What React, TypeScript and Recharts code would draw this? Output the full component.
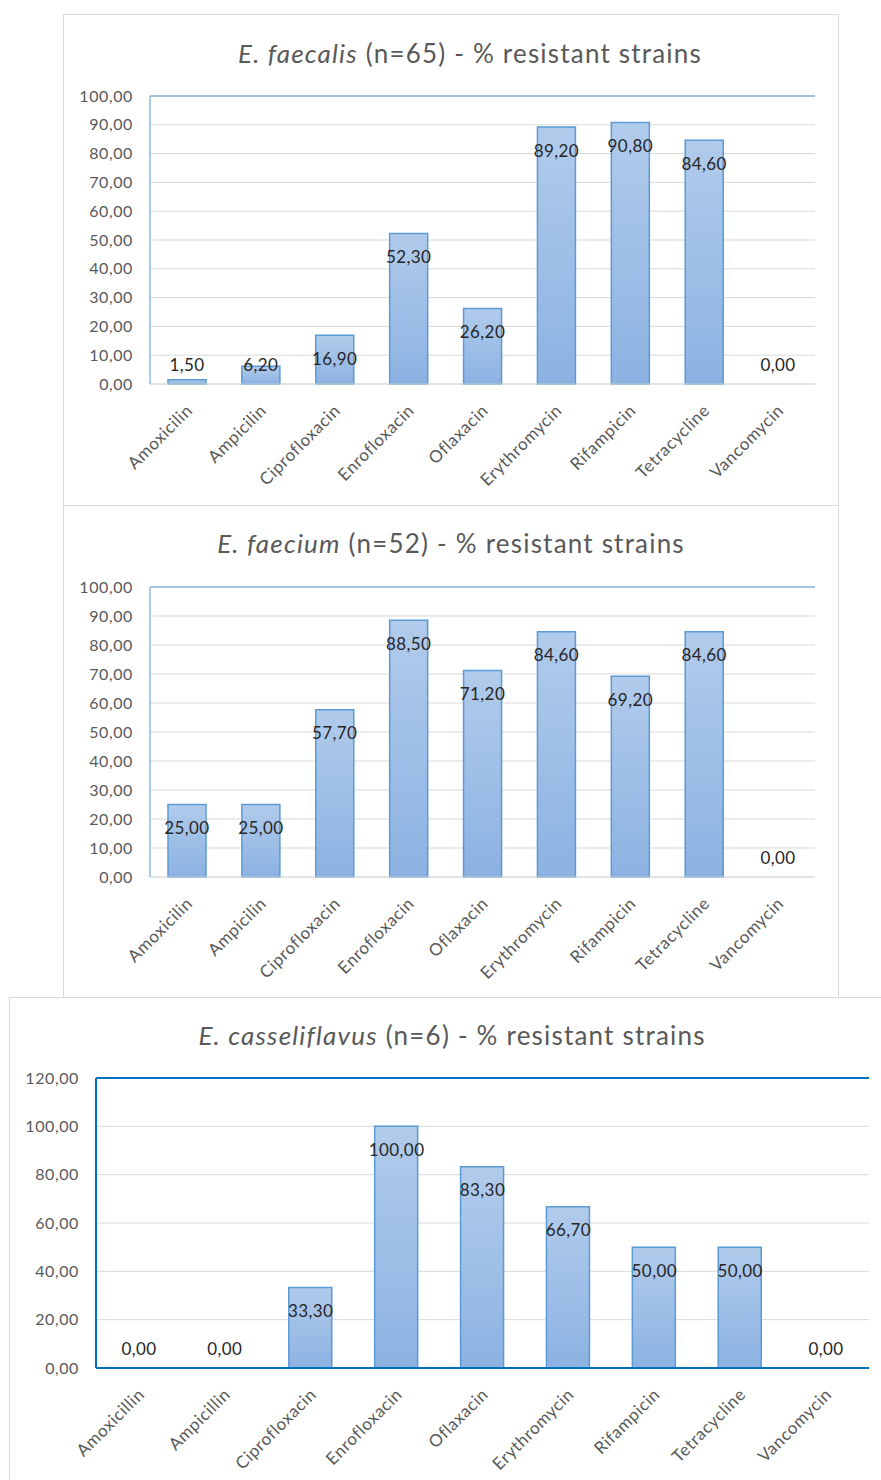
import React from 'react';
import { ComposedChart, Bar, Line, XAxis, YAxis, CartesianGrid, ReferenceLine, LabelList } from 'recharts';

const drugsA = ['Amoxicilin', 'Ampicilin', 'Ciprofloxacin', 'Enrofloxacin', 'Oflaxacin', 'Erythromycin', 'Rifampicin', 'Tetracycline', 'Vancomycin'];
const drugsB = ['Amoxicillin', 'Ampicillin', 'Ciprofloxacin', 'Enrofloxacin', 'Oflaxacin', 'Erythromycin', 'Rifampicin', 'Tetracycline', 'Vancomycin'];
const faecalisValues = [1.5, 6.2, 16.9, 52.3, 26.2, 89.2, 90.8, 84.6, 0];
const faeciumValues = [25.0, 25.0, 57.7, 88.5, 71.2, 84.6, 69.2, 84.6, 0];
const casseliflavusValues = [0, 0, 33.3, 100, 83.3, 66.7, 50, 50, 0];
const ticks100 = [0, 10, 20, 30, 40, 50, 60, 70, 80, 90, 100];
const ticks120 = [0, 20, 40, 60, 80, 100, 120];

const FONT = 'Lato, "Open Sans", sans-serif';
const fmt = (v: number) => v.toFixed(2).replace('.', ',');

const makeLabel = (bottom: number) => (props: any) => {
  const { x, y, value } = props;
  const top = Number(y);
  const ly = Math.min(top + 23, bottom - 20);
  return (
    <text x={Number(x)} y={ly} textAnchor="middle" dominantBaseline="central" fill="#262626" fontSize={17} letterSpacing={0.4} fontFamily={FONT}>
      {fmt(Number(value))}
    </text>
  );
};

const XTick = (props: any) => {
  const { x, y, payload } = props;
  return (
    <g transform={`translate(${x},${y})`}>
      <text x={0} y={0} transform="translate(2,15) rotate(-45)" textAnchor="end" dominantBaseline="central" fill="#595959" fontSize={17} letterSpacing={0.6} fontFamily={FONT}>
        {payload.value}
      </text>
    </g>
  );
};

type PanelProps = {
  italic: string;
  rest: string;
  cats: string[];
  values: number[];
  max: number;
  ticks: number[];
  box: { left: number; top: number; width: number; height: number };
  chart: { left: number; top: number; width: number; height: number };
  margin: { top: number; right: number };
  xHeight: number;
  titleCenter: number;
  titleY: number;
  frame: string;
  frameWidth: number;
  bottomLine: string;
  barSize: number;
  gid: string;
};

const Panel = (p: PanelProps) => {
  const data = p.cats.map((c, i) => ({ name: c, value: p.values[i] }));
  const plotBottom = p.chart.height - p.xHeight;
  return (
    <>
      <div style={{ position: 'absolute', left: p.box.left, top: p.box.top, width: p.box.width, height: p.box.height, border: '1px solid #d9d9d9', background: '#fff', boxSizing: 'border-box' }} />
      <div style={{ position: 'absolute', left: p.titleCenter - 350, width: 700, top: p.titleY - 18, height: 36, lineHeight: '36px', textAlign: 'center', fontFamily: FONT, fontSize: 26, letterSpacing: 1.2, color: '#595959', whiteSpace: 'pre' }}>
        <span style={{ fontStyle: 'italic' }}>{p.italic}</span>{p.rest}
      </div>
      <div style={{ position: 'absolute', left: p.chart.left, top: p.chart.top }}>
        <ComposedChart width={p.chart.width} height={p.chart.height} data={data} margin={{ top: p.margin.top, right: p.margin.right, left: 0, bottom: 0 }}>
          <defs>
            <linearGradient id={p.gid} x1="0" y1="0" x2="0" y2="1">
              <stop offset="0%" stopColor="#b1cbeb" />
              <stop offset="100%" stopColor="#8cb2e2" />
            </linearGradient>
          </defs>
          <CartesianGrid vertical={false} stroke="#d9d9d9" yAxisId="l" />
          <XAxis dataKey="name" height={p.xHeight} interval={0} tickLine={false} axisLine={{ stroke: p.bottomLine, strokeWidth: p.frameWidth }} tick={<XTick />} />
          <YAxis yAxisId="l" width={87} domain={[0, p.max]} ticks={p.ticks} interval={0} tickLine={false} tickSize={0} tickMargin={17}
            axisLine={{ stroke: p.frame, strokeWidth: p.frameWidth }}
            tick={{ fill: '#595959', fontSize: 16, fontFamily: FONT, letterSpacing: 0.6 }} tickFormatter={(v: number) => fmt(v)} />
          <YAxis yAxisId="r" orientation="right" width={0} domain={[0, p.max]} tick={false} tickLine={false}
            axisLine={{ stroke: p.frame, strokeWidth: p.frameWidth }} />
          <ReferenceLine yAxisId="l" y={p.max} stroke={p.frame} strokeWidth={p.frameWidth} />
          <Bar yAxisId="l" dataKey="value" barSize={p.barSize} fill={`url(#${p.gid})`} stroke="#5b9bd5" strokeWidth={1.5} isAnimationActive={false} />
          <Line yAxisId="l" dataKey="value" stroke="none" dot={false} activeDot={false} isAnimationActive={false}>
            <LabelList dataKey="value" content={makeLabel(plotBottom)} />
          </Line>
        </ComposedChart>
      </div>
    </>
  );
};

export default function App() {
  return (
    <div style={{ position: 'absolute', left: 0, top: 0, width: 881, height: 1480, overflow: 'hidden', background: '#fff' }}>
      <Panel italic="E. faecalis" rest=" (n=65) - % resistant strains" cats={drugsA} values={faecalisValues} max={100} ticks={ticks100}
        box={{ left: 63, top: 14, width: 776, height: 492 }} chart={{ left: 63, top: 14, width: 775, height: 491 }}
        margin={{ top: 82, right: 23 }} xHeight={121} titleCenter={470} titleY={53}
        frame="#5b9bd5" frameWidth={1} bottomLine="#d9d9d9" barSize={38} gid="g1" />
      <Panel italic="E. faecium" rest=" (n=52) - % resistant strains" cats={drugsA} values={faeciumValues} max={100} ticks={ticks100}
        box={{ left: 63, top: 505, width: 776, height: 493 }} chart={{ left: 63, top: 505, width: 775, height: 492 }}
        margin={{ top: 82, right: 23 }} xHeight={120} titleCenter={451} titleY={543}
        frame="#5b9bd5" frameWidth={1} bottomLine="#d9d9d9" barSize={38} gid="g2" />
      <Panel italic="E. casseliflavus" rest=" (n=6) - % resistant strains" cats={drugsB} values={casseliflavusValues} max={120} ticks={ticks120}
        box={{ left: 9, top: 997, width: 900, height: 500 }} chart={{ left: 9, top: 997, width: 872, height: 483 }}
        margin={{ top: 81, right: 12 }} xHeight={112} titleCenter={452} titleY={1035}
        frame="#0070c0" frameWidth={2} bottomLine="#0070c0" barSize={43} gid="g3" />
    </div>
  );
}
